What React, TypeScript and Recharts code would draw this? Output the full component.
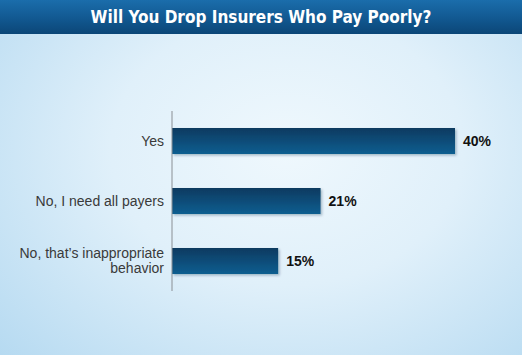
import React from 'react';
import { BarChart, Bar, XAxis, YAxis, LabelList } from 'recharts';

const categories = ['Yes', 'No, I need all payers', 'No, that\u2019s inappropriate\nbehavior'];
const shares = [40, 21, 15];
const title = 'Will You Drop Insurers Who Pay Poorly?';

const data = categories.map((label, i) => ({ label, value: shares[i] }));

const labelFont = '"Liberation Sans", Arial, sans-serif';
const titleFont = '"DejaVu Sans Condensed", "Liberation Sans", sans-serif';

const CategoryTick = (props: any) => {
    const { x, y, payload } = props;
    const lines = String(payload.value).split('\n');
    const lineHeight = 15;
    const startY = y - ((lines.length - 1) * lineHeight) / 2;
    return (
        <text
            x={x}
            y={startY}
            textAnchor="end"
            fill="#3a3a3a"
            fontSize={14}
            fontFamily={labelFont}
        >
            {lines.map((line, i) => (
                <tspan key={i} x={x} dy={i === 0 ? '0.355em' : lineHeight}>
                    {line}
                </tspan>
            ))}
        </text>
    );
};

export default function App() {
    return (
        <div
            style={{
                position: 'relative',
                width: 522,
                height: 355,
                overflow: 'hidden',
                background:
                    'radial-gradient(ellipse 75% 85% at 55% 42%, #eff8fd 0%, #e0f0fa 45%, #b6daf1 100%)',
            }}
        >
            <style>{'body{margin:0}'}</style>
            <div
                style={{
                    position: 'absolute',
                    top: 0,
                    left: 0,
                    width: 522,
                    height: 34,
                    background: 'linear-gradient(to bottom, #1b6dab 0%, #125a93 50%, #0b4677 100%)',
                    color: '#fff',
                    fontFamily: titleFont,
                    fontWeight: 700,
                    fontSize: 17,
                    lineHeight: '34px',
                    textAlign: 'center',
                }}
            >
                {title}
            </div>
            <BarChart
                width={522}
                height={355}
                layout="vertical"
                data={data}
                margin={{ top: 111, right: 67, bottom: 64, left: 0 }}
                style={{ position: 'absolute', top: 0, left: 0 }}
            >
                <defs>
                    <linearGradient id="barFill" x1="0" y1="0" x2="0" y2="1">
                        <stop offset="0%" stopColor="#083a60" />
                        <stop offset="100%" stopColor="#115e90" />
                    </linearGradient>
                    <filter id="barShadow" x="-5%" y="-20%" width="115%" height="160%">
                        <feDropShadow dx="1.5" dy="1.5" stdDeviation="1" floodColor="#0a2a44" floodOpacity="0.3" />
                    </filter>
                </defs>
                <XAxis type="number" domain={[0, 40]} hide />
                <YAxis
                    type="category"
                    dataKey="label"
                    width={172}
                    axisLine={{ stroke: '#8a8f94', strokeWidth: 1 }}
                    tickLine={false}
                    tick={<CategoryTick />}
                    interval={0}
                />
                <Bar
                    dataKey="value"
                    barSize={26}
                    fill="url(#barFill)"
                    filter="url(#barShadow)"
                    isAnimationActive={false}
                >
                    <LabelList
                        dataKey="value"
                        position="right"
                        offset={8}
                        formatter={(v: any) => `${v}%`}
                        style={{ fill: '#111', fontSize: 14, fontWeight: 700, fontFamily: labelFont }}
                    />
                </Bar>
            </BarChart>
        </div>
    );
}
